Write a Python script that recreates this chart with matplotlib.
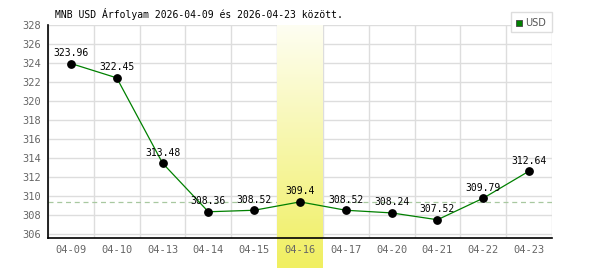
"""MNB USD exchange rate, two-week line chart."""
import matplotlib
matplotlib.use("Agg")
import matplotlib.pyplot as plt
import numpy as np

dates = ["04-09", "04-10", "04-13", "04-14", "04-15", "04-16",
         "04-17", "04-20", "04-21", "04-22", "04-23"]
rates = [323.96, 322.45, 313.48, 308.36, 308.52, 309.4,
         308.52, 308.24, 307.52, 309.79, 312.64]
labels = ["323.96", "322.45", "313.48", "308.36", "308.52", "309.4",
          "308.52", "308.24", "307.52", "309.79", "312.64"]
highlight = 5
ref_rate = 309.4
y_ticks = list(range(306, 329, 2))

mono = "DejaVu Sans Mono"
fig = plt.figure(figsize=(6, 2.7), dpi=100)
ax = fig.add_axes([0.08, 0.1185, 0.84, 0.7885])

x = np.arange(len(dates))
ymin, ymax = 305.6, 328

# grid drawn by hand so the highlight can sit on top of it
for yt in y_ticks:
    ax.axhline(yt, color="#dddddd", lw=1, zorder=0.2)
for xb in np.arange(len(dates) + 1) - 0.5:
    ax.axvline(xb, color="#dddddd", lw=1, zorder=0.2)
ax.axhline(ref_rate, color="#a8c8a0", ls=(0, (4, 3)), lw=0.9, zorder=0.3)

# highlighted day: white-to-yellow gradient running below the axis
grad = np.linspace(0, 1, 256).reshape(-1, 1)
cmap = matplotlib.colors.LinearSegmentedColormap.from_list(
    "hl", ["#fefef2", "#f0ef60"])
ybot = ymin - 30 / 9.5
ax.imshow(grad, cmap=cmap, aspect="auto", origin="upper",
          extent=(highlight - 0.5, highlight + 0.5, ybot, ymax),
          clip_on=False, zorder=0.5)

ax.plot(x, rates, color="#008000", lw=0.9, zorder=3)
ax.scatter(x, rates, s=28, color="black", zorder=4)
for xi, yi, t in zip(x, rates, labels):
    ax.annotate(t, (xi, yi), xytext=(0, 4), textcoords="offset points",
                ha="center", va="bottom", fontsize=7, family=mono,
                color="black", zorder=5)

ax.set_xlim(-0.5, len(dates) - 0.5)
ax.set_ylim(ymin, ymax)
ax.set_xticks(x)
ax.set_xticklabels(dates)
ax.set_yticks(y_ticks)
ax.tick_params(axis="both", which="both", length=0, labelsize=7.5,
               labelcolor="#666666", pad=5)
for lab in ax.get_xticklabels() + ax.get_yticklabels():
    lab.set_family(mono)
ax.set_axisbelow(False)
for side in ["top", "right"]:
    ax.spines[side].set_visible(False)
for side in ["left", "bottom"]:
    ax.spines[side].set_linewidth(1.2)
    ax.spines[side].set_zorder(2.6)

fig.text(55 / 600, 1 - 14 / 270, "MNB USD Árfolyam 2026-04-09 és 2026-04-23 között.",
         fontsize=7, family=mono, ha="left", va="center")

# legend box
fig.patches.append(matplotlib.patches.Rectangle(
    (511 / 600, 1 - 32 / 270), 41 / 600, 20 / 270, transform=fig.transFigure,
    facecolor="white", edgecolor="#dddddd", lw=1, zorder=6))
fig.patches.append(matplotlib.patches.Rectangle(
    (516 / 600, 1 - 26 / 270), 6 / 600, 6 / 270, transform=fig.transFigure,
    facecolor="#008000", edgecolor="#444444", lw=0.6, zorder=7))
fig.text(525 / 600, 1 - 22.5 / 270, "USD", fontsize=7, color="#555555",
         ha="left", va="center", zorder=8)

fig.savefig("out.png", dpi=100)
